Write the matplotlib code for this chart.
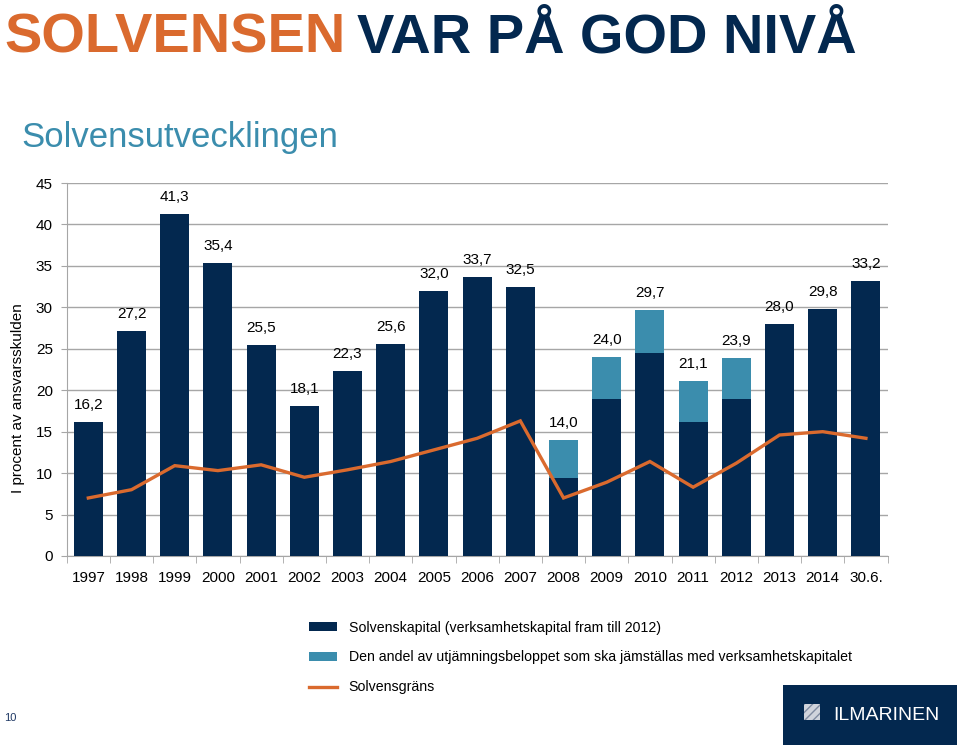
import matplotlib
matplotlib.use("Agg")
import matplotlib.pyplot as plt
from matplotlib.patches import Rectangle, Patch
from matplotlib.lines import Line2D
import numpy as np

plt.rcParams['font.family'] = ['Liberation Sans', 'DejaVu Sans']

years = ["1997", "1998", "1999", "2000", "2001", "2002", "2003", "2004", "2005",
         "2006", "2007", "2008", "2009", "2010", "2011", "2012", "2013", "2014", "30.6."]
total = [16.2, 27.2, 41.3, 35.4, 25.5, 18.1, 22.3, 25.6, 32.0,
         33.7, 32.5, 14.0, 24.0, 29.7, 21.1, 23.9, 28.0, 29.8, 33.2]
solvenskapital = [16.2, 27.2, 41.3, 35.4, 25.5, 18.1, 22.3, 25.6, 32.0,
                  33.7, 32.5, 9.4, 19.0, 24.5, 16.2, 18.9, 28.0, 29.8, 33.2]
solvensgrans = [7.0, 8.0, 10.9, 10.3, 11.0, 9.5, 10.4, 11.4, 12.8,
                14.2, 16.3, 7.0, 8.9, 11.4, 8.3, 11.2, 14.6, 15.0, 14.2]
yticks = [0, 5, 10, 15, 20, 25, 30, 35, 40, 45]

NAVY = "#03284F"
TEAL = "#3B8DAD"
ORANGE = "#DA6A2E"
GRID = "#A6A6A6"

fig = plt.figure(figsize=(9.6, 7.48), dpi=100)
ax = fig.add_axes([0.0695, 0.2567, 0.855, 0.4986])

x = np.arange(len(years))
utj = [t - s for t, s in zip(total, solvenskapital)]
ax.bar(x, solvenskapital, width=0.67, color=NAVY, zorder=3)
ax.bar(x, utj, bottom=solvenskapital, width=0.67, color=TEAL, zorder=3)
ax.plot(x, solvensgrans, color=ORANGE, lw=2.4, zorder=4, solid_joinstyle='miter')

for xi, t in zip(x, total):
    ax.annotate(f"{t:.1f}".replace(".", ","), (xi, t), xytext=(0, 7),
                textcoords="offset points", ha="center", va="bottom", fontsize=11)

ax.set_xlim(-0.5, 18.5)
ax.set_ylim(0, 45)
ax.set_yticks(yticks)
ax.set_yticklabels([str(v) for v in yticks], fontsize=11)
ax.set_xticks(x)
ax.set_xticklabels(years, fontsize=11)
ax.set_xticks(np.arange(-0.5, 18.6, 1), minor=True)
ax.tick_params(axis='x', which='major', length=0, pad=11)
ax.tick_params(axis='x', which='minor', length=5, color=GRID)
ax.tick_params(axis='y', length=4, color=GRID, pad=6)
ax.yaxis.grid(True, color=GRID, lw=1, zorder=0)
ax.set_axisbelow(True)
for s in ["top", "right"]:
    ax.spines[s].set_visible(False)
for s in ["left", "bottom"]:
    ax.spines[s].set_color(GRID)

fig.text(0.011, 0.468, "I procent av ansvarsskulden", rotation=90, fontsize=11,
         ha="left", va="center")

# Titles
t1 = fig.text(0.005, 0.930, "SOLVENSEN", color=ORANGE, fontsize=40.3, fontweight="bold",
              va="baseline", ha="left")
fig.canvas.draw()
bb = t1.get_window_extent()
fig.text(bb.x1 / 960 + 0.011, 0.930, "VAR PÅ GOD NIVÅ", color=NAVY, fontsize=40.3,
         fontweight="bold", va="baseline", ha="left")
fig.text(0.022, 0.803, "Solvensutvecklingen", color=TEAL, fontsize=25, va="baseline", ha="left")

# Legend
handles = [Patch(facecolor=NAVY), Patch(facecolor=TEAL),
           Line2D([0], [0], color=ORANGE, lw=2.4)]
labels = ["Solvenskapital (verksamhetskapital fram till 2012)",
          "Den andel av utjämningsbeloppet som ska jämställas med verksamhetskapitalet",
          "Solvensgräns"]
fig.legend(handles, labels, loc="upper left", bbox_to_anchor=(0.316, 0.178),
           frameon=False, fontsize=10.2, handlelength=2.0, handleheight=0.6,
           labelspacing=1.12, handletextpad=0.8, borderaxespad=0)

# Logo box
fig.patches.append(Rectangle((783 / 960, 3 / 748), 174 / 960, 60 / 748, transform=fig.transFigure,
                             facecolor=NAVY, edgecolor="none"))
fig.patches.append(Rectangle((804 / 960, 28 / 748), 16 / 960, 16 / 748, transform=fig.transFigure,
                             facecolor="#D0D4DC", edgecolor="#7F8AA0", hatch="////", lw=0))
fig.text(833 / 960, 28 / 748, "ILMARINEN", color="white", fontsize=14, va="baseline", ha="left")
fig.text(0.004, 0.04, "10", color="#1F3864", fontsize=8, va="center", ha="left")

fig.savefig("out.png", dpi=100)
